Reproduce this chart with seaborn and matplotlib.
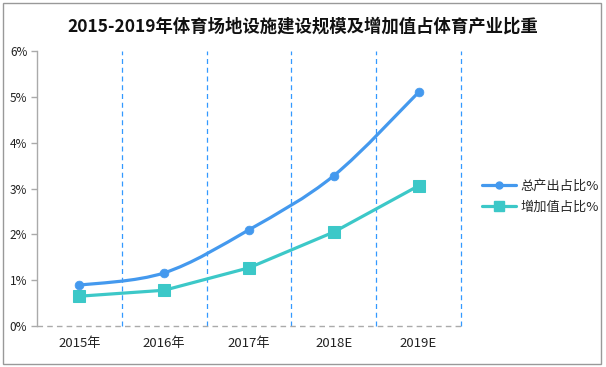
import numpy as np
import pandas as pd
import matplotlib
matplotlib.use("Agg")
import matplotlib.pyplot as plt
from matplotlib.path import Path
from matplotlib.patches import PathPatch, Rectangle
from matplotlib.lines import Line2D
import seaborn as sns

years = ["2015年", "2016年", "2017年", "2018E", "2019E"]
total_share = [0.89, 1.16, 2.10, 3.28, 5.10]
added_share = [0.65, 0.78, 1.27, 2.05, 3.06]
y_ticks = [0, 1, 2, 3, 4, 5, 6]
y_tick_labels = ["0%", "1%", "2%", "3%", "4%", "5%", "6%"]
series_names = ["总产出占比%", "增加值占比%"]
title = "2015-2019年体育场地设施建设规模及增加值占体育产业比重"

BLUE = "#4499ee"
TEAL = "#3cc8c8"

sns.set_theme(style="white")
plt.rcParams["font.family"] = ["Noto Sans CJK SC", "DejaVu Sans"]

fig = plt.figure(figsize=(6.06, 3.67), dpi=100)
ax = fig.add_axes([37/606, 1-326/367, (461-37)/606, (326-51)/367])

x = np.arange(len(years))
df = pd.DataFrame({"x": x, "total": total_share, "added": added_share})

# smooth curve for total share (Catmull-Rom as Bezier)
pts = np.column_stack([x, total_share]).astype(float)
ext = np.vstack([pts[0], pts, pts[-1]])
verts = [tuple(pts[0])]
codes = [Path.MOVETO]
for i in range(len(pts) - 1):
    p0, p1, p2, p3 = ext[i], ext[i+1], ext[i+2], ext[i+3]
    c1 = p1 + (p2 - p0) / 6
    c2 = p2 - (p3 - p1) / 6
    verts += [tuple(c1), tuple(c2), tuple(p2)]
    codes += [Path.CURVE4] * 3
ax.add_patch(PathPatch(Path(verts, codes), facecolor="none", edgecolor=BLUE,
                       lw=2.3, zorder=3, capstyle="round"))
sns.scatterplot(data=df, x="x", y="total", ax=ax, color=BLUE, s=40,
                marker="o", edgecolor=BLUE, zorder=4, legend=False)

sns.lineplot(data=df, x="x", y="added", ax=ax, color=TEAL, lw=2.3,
             marker="s", markersize=8, markeredgecolor=TEAL, zorder=3, legend=False)

# vertical dashed separators
for b in np.arange(0.5, len(years), 1.0):
    ax.axvline(b, color="#3399ff", lw=0.9, ls=(0, (4, 3)), zorder=1, clip_on=False)
ax.axhline(0, color="#aaaaaa", lw=1.0, ls=(0, (4, 3)), zorder=2, clip_on=False)

ax.set_xlim(-0.5, len(years) - 0.5)
ax.set_ylim(0, 6)
ax.set_xticks(x)
ax.set_xticklabels(years, fontsize=9.5, color="#222222")
ax.set_xticks(np.arange(-0.5, len(years), 1.0), minor=True)
ax.set_yticks(y_ticks)
ax.set_yticklabels(y_tick_labels, fontsize=8.5, color="#222222")
ax.set_xlabel("")
ax.set_ylabel("")
ax.tick_params(axis="x", which="major", length=0, pad=8)
ax.tick_params(axis="x", which="minor", length=4, color="#aaaaaa", width=1, direction="out")
ax.tick_params(axis="y", length=4, color="#aaaaaa", width=1, direction="out", left=True, pad=3)
for s in ["top", "right", "bottom"]:
    ax.spines[s].set_visible(False)
ax.spines["left"].set_color("#aaaaaa")
ax.spines["left"].set_linewidth(1.0)

handles = [Line2D([], [], color=BLUE, lw=2.3, marker="o", markersize=5),
           Line2D([], [], color=TEAL, lw=2.3, marker="s", markersize=7)]
fig.legend(handles, series_names, loc="center left", bbox_to_anchor=(470/606, 1-197/367),
           frameon=False, fontsize=9.5, handlelength=2.6, handletextpad=0.3, labelspacing=0.6)

fig.text(0.5, 1-27/367, title, ha="center", va="center", fontsize=12.5,
         fontweight="bold", color="#111111")

fig.patches.append(Rectangle((3/606, 3/367), 598/606, 361/367, transform=fig.transFigure,
                             fill=False, edgecolor="#999999", lw=1.0))

fig.savefig("out.png", dpi=100)
